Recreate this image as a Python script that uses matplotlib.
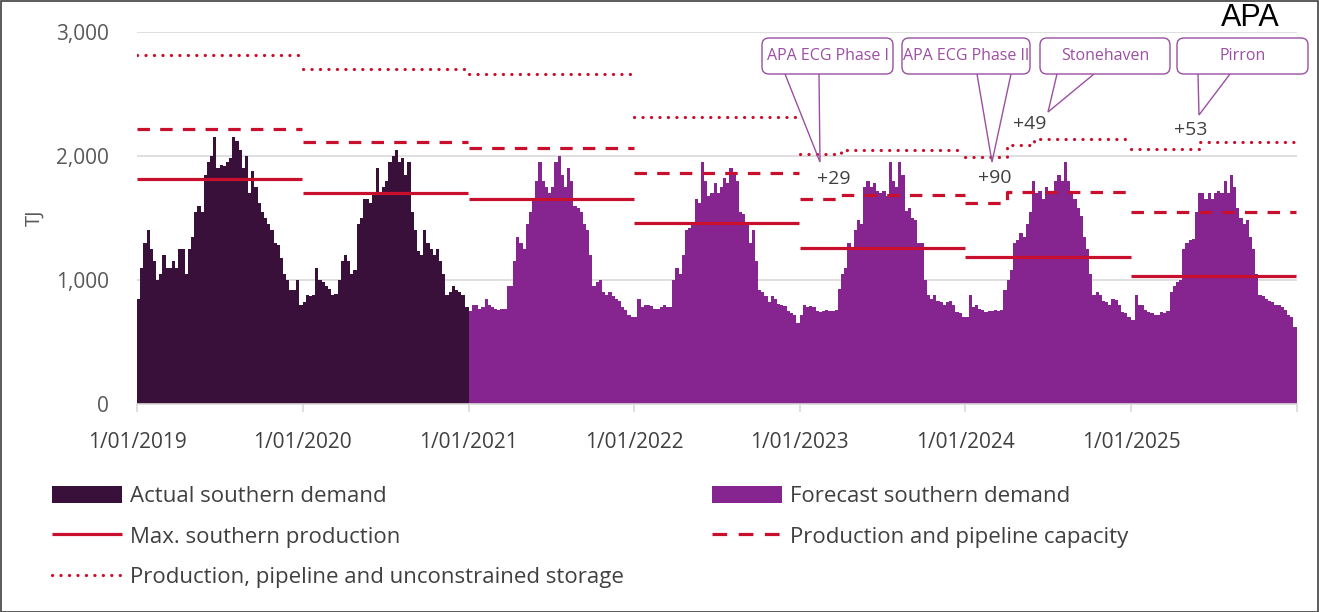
import numpy as np
import matplotlib
matplotlib.use('Agg')
import matplotlib.pyplot as plt
import matplotlib.dates as mdates
from matplotlib.patches import FancyBboxPatch, Rectangle, Patch
from matplotlib.lines import Line2D
from matplotlib.transforms import IdentityTransform

# ---------------- data (weekly values, TJ) ----------------
years = [2019, 2020, 2021, 2022, 2023, 2024, 2025]
actual_years = [2019, 2020]

demand_2019 = [850, 1100, 1300, 1400, 1250, 1150, 1000, 1050, 1200, 1100, 1100, 1150, 1100,
               1250, 1250, 1050, 1250, 1350, 1550, 1600, 1550, 1850, 1950, 2000, 2150, 1900,
               1930, 1920, 1950, 1980, 2150, 2120, 2050, 1900, 2000, 1700, 1880, 1750, 1620,
               1550, 1500, 1450, 1400, 1300, 1280, 1180, 1050, 1000, 920, 920, 1000, 800]
demand_2020 = [820, 880, 870, 880, 1100, 1000, 980, 950, 930, 880, 890, 1000, 1150,
               1200, 1150, 1050, 1080, 1450, 1500, 1650, 1650, 1620, 1700, 1900, 1700, 1750,
               1800, 1950, 2000, 2050, 1950, 1980, 1850, 1950, 1550, 1400, 1230, 1200, 1400,
               1300, 1250, 1200, 1250, 1150, 1050, 880, 900, 950, 920, 900, 880, 780]
demand_2021 = [750, 800, 800, 770, 780, 850, 800, 780, 770, 760, 770, 770, 950,
               950, 1150, 1350, 1300, 1250, 1450, 1550, 1650, 1800, 1950, 1800, 1750, 1700,
               1750, 1950, 2000, 1850, 1750, 1900, 1800, 1600, 1580, 1550, 1450, 1400, 1200,
               950, 980, 1000, 900, 880, 900, 870, 850, 830, 780, 760, 720, 700]
demand_2022 = [700, 850, 780, 800, 800, 790, 770, 770, 780, 800, 780, 780, 1000,
               1100, 1050, 1200, 1400, 1420, 1450, 1650, 1620, 1950, 1800, 1680, 1700, 1780,
               1700, 1750, 1820, 1780, 1900, 1850, 1800, 1550, 1530, 1450, 1300, 1400, 1150,
               920, 900, 870, 820, 870, 850, 810, 800, 790, 750, 730, 720, 650]
demand_2023 = [720, 800, 780, 790, 780, 750, 740, 750, 760, 750, 750, 760, 930,
               1050, 1100, 1300, 1250, 1400, 1480, 1450, 1750, 1800, 1750, 1780, 1720, 1700,
               1720, 1680, 1950, 1800, 1750, 1950, 1850, 1560, 1580, 1500, 1480, 1300, 1300,
               1000, 880, 850, 880, 830, 820, 800, 820, 830, 800, 740, 730, 700]
demand_2024 = [700, 880, 780, 800, 770, 760, 740, 750, 750, 760, 750, 760, 920,
               1000, 1080, 1300, 1320, 1380, 1350, 1450, 1550, 1800, 1700, 1720, 1650, 1750,
               1720, 1700, 1800, 1850, 1800, 1950, 1800, 1700, 1650, 1580, 1520, 1350, 1250,
               1050, 880, 900, 880, 830, 820, 800, 850, 840, 800, 740, 730, 700]
demand_2025 = [680, 880, 800, 800, 760, 740, 730, 720, 720, 740, 730, 750, 900,
               950, 980, 1000, 1250, 1300, 1320, 1330, 1550, 1700, 1700, 1650, 1700, 1650,
               1700, 1720, 1700, 1800, 1700, 1850, 1750, 1580, 1500, 1450, 1480, 1350, 1250,
               1050, 880, 870, 850, 830, 820, 800, 800, 780, 760, 720, 700, 620]
demand_by_year = [demand_2019, demand_2020, demand_2021, demand_2022,
                  demand_2023, demand_2024, demand_2025]

max_production = [1815, 1702, 1656, 1462, 1255, 1188, 1032]

pipeline_step_dates = ["2019-01-01", "2020-01-01", "2021-01-01", "2022-01-01", "2023-01-01",
                       "2023-04-01", "2024-01-01", "2024-04-01", "2025-01-01"]
pipeline_step_values = [2215, 2110, 2067, 1866, 1656, 1685, 1618, 1708, 1551]

storage_step_dates = ["2019-01-01", "2020-01-01", "2021-01-01", "2022-01-01", "2023-01-01",
                      "2023-04-01", "2024-01-01", "2024-04-01", "2024-06-01", "2025-01-01",
                      "2025-06-01"]
storage_step_values = [2815, 2699, 2659, 2317, 2020, 2049, 1995, 2085, 2134, 2056, 2109]

xtick_labels = ["1/01/2019", "1/01/2020", "1/01/2021", "1/01/2022",
                "1/01/2023", "1/01/2024", "1/01/2025"]

# ---------------- style ----------------
C_ACTUAL = "#381039"
C_FORECAST = "#86258f"
C_RED = "#c8102e"
C_GRID = "#d9d9d9"
C_TEXT = "#595959"
C_DARK = "#404040"
C_CALLOUT = "#9b4fa3"
FONT = ["Open Sans", "DejaVu Sans"]
plt.rcParams['font.family'] = FONT

W, H, DPI = 1319, 612, 100
fig = plt.figure(figsize=(W / DPI, H / DPI), dpi=DPI)
ax = fig.add_axes([137 / W, 1 - 404 / H, (1297 - 137) / W, (404 - 32) / H])
TI = IdentityTransform()


def px(x, y):
    return x, H - y


def d2n(s):
    return mdates.date2num(np.datetime64(s))


# ---------------- bars ----------------
for yr, vals in zip(years, demand_by_year):
    y0 = np.datetime64(f"{yr}-01-01")
    y1 = np.datetime64(f"{yr + 1}-01-01")
    starts = y0 + np.arange(len(vals)) * np.timedelta64(7, 'D')
    ends = np.append(starts[1:], y1)
    x0 = mdates.date2num(starts)
    widths = mdates.date2num(ends) - x0
    col = C_ACTUAL if yr in actual_years else C_FORECAST
    ax.bar(x0, vals, width=widths, align='edge', color=col, linewidth=0, zorder=2)

# ---------------- capacity lines ----------------
LW = 2.3
solid_kw = dict(color=C_RED, lw=LW, solid_capstyle='butt', zorder=4)
dash_kw = dict(color=C_RED, lw=LW, dashes=(3.9, 3.2), dash_capstyle='butt', zorder=4)
dot_kw = dict(color=C_RED, lw=LW, dashes=(0.05, 2.6), dash_capstyle='round', zorder=4)


def year_end(yr):
    return d2n(f"{yr + 1}-01-01") - 1.5


for yr, v in zip(years, max_production):
    ax.plot([d2n(f"{yr}-01-01"), year_end(yr)], [v, v], **solid_kw)


def draw_steps(dates, values, kw):
    for yr in years:
        xs, ys = [], []
        for d, v in zip(dates, values):
            if d.startswith(str(yr)):
                xs.append(d2n(d))
                ys.append(v)
        xs.append(year_end(yr))
        ys.append(ys[-1])
        ax.plot(xs, ys, drawstyle='steps-post', **kw)


draw_steps(pipeline_step_dates, pipeline_step_values, dash_kw)
draw_steps(storage_step_dates, storage_step_values, dot_kw)

# ---------------- axes ----------------
ax.set_xlim(d2n("2019-01-01"), d2n("2026-01-01"))
ax.set_ylim(0, 3000)
ax.set_yticks([0, 1000, 2000, 3000])
ax.set_yticklabels(["0", "1,000", "2,000", "3,000"])
ax.yaxis.grid(True, color=C_GRID, lw=1.2, zorder=0)
ax.set_axisbelow(True)
for s in ['top', 'right', 'left']:
    ax.spines[s].set_visible(False)
ax.spines['bottom'].set_color(C_GRID)
ax.spines['bottom'].set_linewidth(1.2)
ax.spines['bottom'].set_zorder(5)
xt = [d2n(f"{y}-01-01") for y in years + [2026]]
ax.set_xticks(xt)
ax.set_xticklabels(xtick_labels + [""])
ax.tick_params(axis='x', colors=C_GRID, length=6, width=1.2, labelcolor=C_DARK,
               labelsize=15, pad=14)
ax.tick_params(axis='y', length=0, labelcolor=C_TEXT, labelsize=15, pad=20)
fig.text(*px(35, 218), "TJ", transform=TI, rotation=90, ha='center', va='center',
         color=C_TEXT, fontsize=14.5)

# ---------------- callouts ----------------
callouts = [
    ("APA ECG Phase I", (762, 38, 893, 74), (785, 819), (820, 162)),
    ("APA ECG Phase II", (902, 38, 1030, 74), (977, 1011), (992, 162)),
    ("Stonehaven", (1040, 38, 1170, 74), (1057, 1094), (1048, 112)),
    ("Pirron", (1177, 38, 1308, 74), (1198, 1230), (1199, 115)),
]
for label, (bx0, by0, bx1, by1), (b0, b1), (tx, ty) in callouts:
    x0, y0 = px(bx0, by1)
    box = FancyBboxPatch((x0, y0), bx1 - bx0, by1 - by0,
                         boxstyle="round,pad=0,rounding_size=7",
                         transform=TI, facecolor="white", edgecolor=C_CALLOUT,
                         lw=1.0, zorder=10)
    fig.patches.append(box)
    tri = [(b0, H - by1), (tx, H - ty), (b1, H - by1)]
    fig.patches.append(plt.Polygon(tri, closed=False, transform=TI, facecolor="none",
                                   edgecolor=C_CALLOUT, lw=1.0, zorder=11))
    cx, cy = px((bx0 + bx1) / 2, (by0 + by1) / 2)
    fig.text(cx, cy, label, transform=TI, ha='center', va='center',
             color=C_CALLOUT, fontsize=11.5, zorder=12)

for txt, (x, y) in [("+29", (834, 179)), ("+90", (995, 178)),
                    ("+49", (1030, 124)), ("+53", (1191, 130))]:
    fig.text(*px(x, y), txt, transform=TI, ha='center', va='center',
             color=C_DARK, fontsize=14)

fig.text(*px(1250, 18), "APA", transform=TI, ha='center', va='center',
         color="black", fontsize=22, family=["Liberation Sans", "DejaVu Sans"])

# ---------------- legend ----------------
h_actual = Patch(facecolor=C_ACTUAL, edgecolor='none')
h_fore = Patch(facecolor=C_FORECAST, edgecolor='none')
h_max = Line2D([], [], **solid_kw)
h_pipe = Line2D([], [], color=C_RED, lw=LW, dashes=(4.6, 3.6), dash_capstyle='butt')
h_stor = Line2D([], [], **dot_kw)

leg_kw = dict(frameon=False, fontsize=16, handlelength=3.15, handleheight=0.8,
              handletextpad=0.36, labelspacing=0.86, labelcolor=C_DARK,
              borderaxespad=0, borderpad=0, loc='upper left')
fig.legend([h_actual, h_max, h_stor],
           ["Actual southern demand", "Max. southern production",
            "Production, pipeline and unconstrained storage"],
           bbox_to_anchor=(52 / W, 1 - 486 / H), **leg_kw)
fig.legend([h_fore, h_pipe],
           ["Forecast southern demand", "Production and pipeline capacity"],
           bbox_to_anchor=(712 / W, 1 - 486 / H), **leg_kw)

# figure border
fig.patches.append(Rectangle((0.5, 0.5), W - 1.5, H - 1.5, transform=TI,
                             facecolor='none', edgecolor=C_DARK, lw=1.2, zorder=20))

fig.savefig("out.png", dpi=DPI)
